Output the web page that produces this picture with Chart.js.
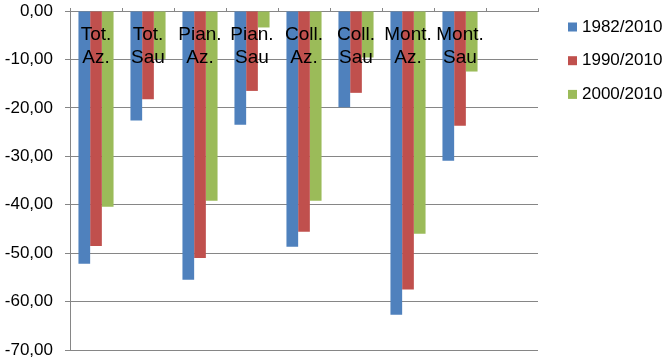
<!DOCTYPE html>
<html>
<head>
<meta charset="utf-8">
<script src="https://cdn.jsdelivr.net/npm/chart.js@4.4.0/dist/chart.umd.min.js"></script>
<style>
  html, body { margin: 0; padding: 0; background: #fff; }
  #wrap { width: 666px; height: 363px; }
</style>
</head>
<body>
<div id="wrap"><canvas id="chart"></canvas></div>
<script>
// categories (two-line labels), last slot is empty like in the original sheet
const categories = [
    ['Tot.', 'Az.'], ['Tot.', 'Sau'], ['Pian.', 'Az.'], ['Pian.', 'Sau'],
    ['Coll.', 'Az.'], ['Coll.', 'Sau'], ['Mont.', 'Az.'], ['Mont.', 'Sau'], ''
];
const seriesNames = ['1982/2010', '1990/2010', '2000/2010'];
const v1982 = [-52.2, -22.6, -55.5, -23.5, -48.7, -19.9, -62.7, -30.9, null];
const v1990 = [-48.5, -18.2, -51.0, -16.5, -45.6, -16.9, -57.5, -23.7, null];
const v2000 = [-40.4, -9.9, -39.2, -3.4, -39.2, -9.6, -46.0, -12.5, null];
const colors = ['#4F81BD', '#C0504D', '#9BBB59'];

const FONT = "'Liberation Sans', Arial, sans-serif";
const GRID = '#868686';

// category names are written inside the plot, just under the zero line
const insideLabels = {
    id: 'insideLabels',
    afterDatasetsDraw(chart) {
        const ctx = chart.ctx;
        const x = chart.scales.x;
        const top = chart.chartArea.top;
        ctx.save();
        ctx.font = '19px ' + FONT;
        ctx.fillStyle = '#000';
        ctx.textAlign = 'center';
        ctx.textBaseline = 'alphabetic';
        chart.data.labels.forEach((lab, i) => {
            if (!lab) return;
            const cx = x.getPixelForValue(i);
            lab.forEach((line, j) => ctx.fillText(line, cx, top + 29 + j * 23));
        });
        ctx.restore();
    }
};

// Excel-style legend on the right: small square, tight gap, then the text
const sideLegend = {
    id: 'sideLegend',
    afterDraw(chart) {
        const ctx = chart.ctx;
        const x0 = chart.chartArea.right + 30;
        ctx.save();
        ctx.font = '17px ' + FONT;
        ctx.textBaseline = 'middle';
        ctx.textAlign = 'left';
        chart.data.datasets.forEach((ds, i) => {
            const cy = 27 + i * 33.7;
            ctx.fillStyle = ds.backgroundColor;
            ctx.fillRect(x0, cy - 4.5, 9, 9);
            ctx.fillStyle = '#000';
            ctx.fillText(ds.label, x0 + 14, cy);
        });
        ctx.restore();
    }
};

new Chart(document.getElementById('chart'), {
    type: 'bar',
    data: {
        labels: categories,
        datasets: [
            { label: seriesNames[0], data: v1982, backgroundColor: colors[0] },
            { label: seriesNames[1], data: v1990, backgroundColor: colors[1] },
            { label: seriesNames[2], data: v2000, backgroundColor: colors[2] }
        ]
    },
    options: {
        responsive: true,
        maintainAspectRatio: false,
        animation: false,
        devicePixelRatio: 1,
        layout: { padding: { left: 5, right: 128, top: 3, bottom: 13 } },
        datasets: {
            bar: { barPercentage: 1, categoryPercentage: 0.675 }
        },
        scales: {
            x: {
                position: 'top',
                grid: { drawOnChartArea: false, drawTicks: true, tickLength: 3, color: GRID, offset: true },
                border: { color: GRID, width: 1 },
                ticks: { display: false },
                afterFit(s) { s.height = 0; }
            },
            y: {
                min: -70,
                max: 0,
                ticks: {
                    stepSize: 10,
                    padding: 12,
                    color: '#000',
                    font: { family: FONT, size: 17 },
                    callback: v => v.toFixed(2).replace('.', ',').replace('-0,00', '0,00')
                },
                grid: { color: GRID, lineWidth: 1, tickLength: 5 },
                border: { color: GRID, width: 1 },
                afterFit(s) { s.width = 65; s.paddingTop = 11; s.paddingBottom = 0; }
            }
        },
        plugins: {
            legend: { display: false },
            tooltip: { enabled: false }
        }
    },
    plugins: [insideLabels, sideLegend]
});
</script>
</body>
</html>
